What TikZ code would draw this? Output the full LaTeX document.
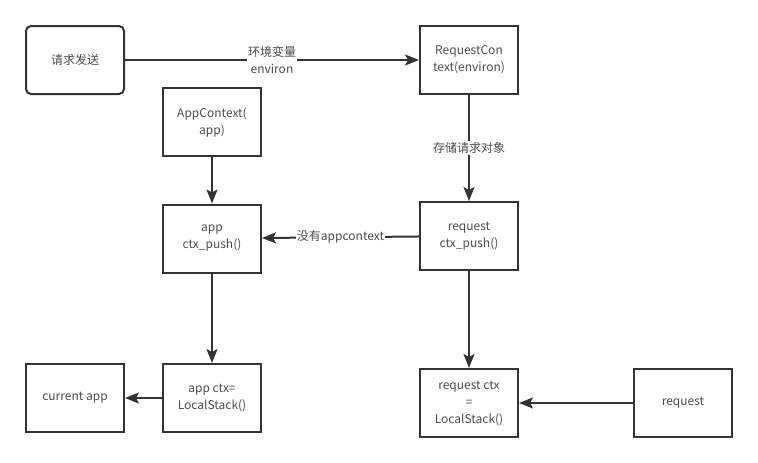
\documentclass[tikz,border=0pt]{standalone}
\usepackage{fontspec}
\setmainfont{Noto Sans CJK SC}
\usetikzlibrary{arrows.meta}

\begin{document}
\begin{tikzpicture}[x=1pt,y=-1pt,->,>={Stealth[length=14pt,width=11pt,inset=3pt]},line width=2pt,color=black!80]
  \tikzstyle{box}=[draw,minimum width=98pt,minimum height=68pt,align=center,text=black!70,font=\fontsize{12}{17}\selectfont]
  \tikzstyle{tag}=[fill=white,inner sep=1pt,align=center,text=black!70,font=\fontsize{12}{17}\selectfont]
  \useasboundingbox (0,0) rectangle (758,463);

  \node[box,rounded corners=5pt] (send) at (75,60)    {请求发送};
  \node[box] (reqctx)   at (469,60)    {RequestCon\\text(environ)};
  \node[box] (appctx)   at (212,122)   {AppContext(\\app)};
  \node[box] (apppush)  at (212,238.5) {app\\ctx\_push()};
  \node[box] (reqpush)  at (469,236)   {request\\ctx\_push()};
  \node[box] (current)  at (75,398)    {current app};
  \node[box] (appstack) at (212,398)   {app ctx=\\LocalStack()};
  \node[box] (reqstack) at (469,403)   {request ctx\\=\\LocalStack()};
  \node[box] (request)  at (683,403)   {request};

  \draw (send) -- node[tag] {环境变量\\environ} (reqctx);
  \draw (reqctx) -- node[tag] {存储请求对象} (reqpush);
  \draw (appctx) -- (apppush);
  \draw (reqpush) -- node[tag] {没有appcontext} (apppush);
  \draw (apppush) -- (appstack);
  \draw (appstack) -- (current);
  \draw (reqpush) -- (reqstack);
  \draw (request) -- (reqstack);
\end{tikzpicture}
\end{document}
